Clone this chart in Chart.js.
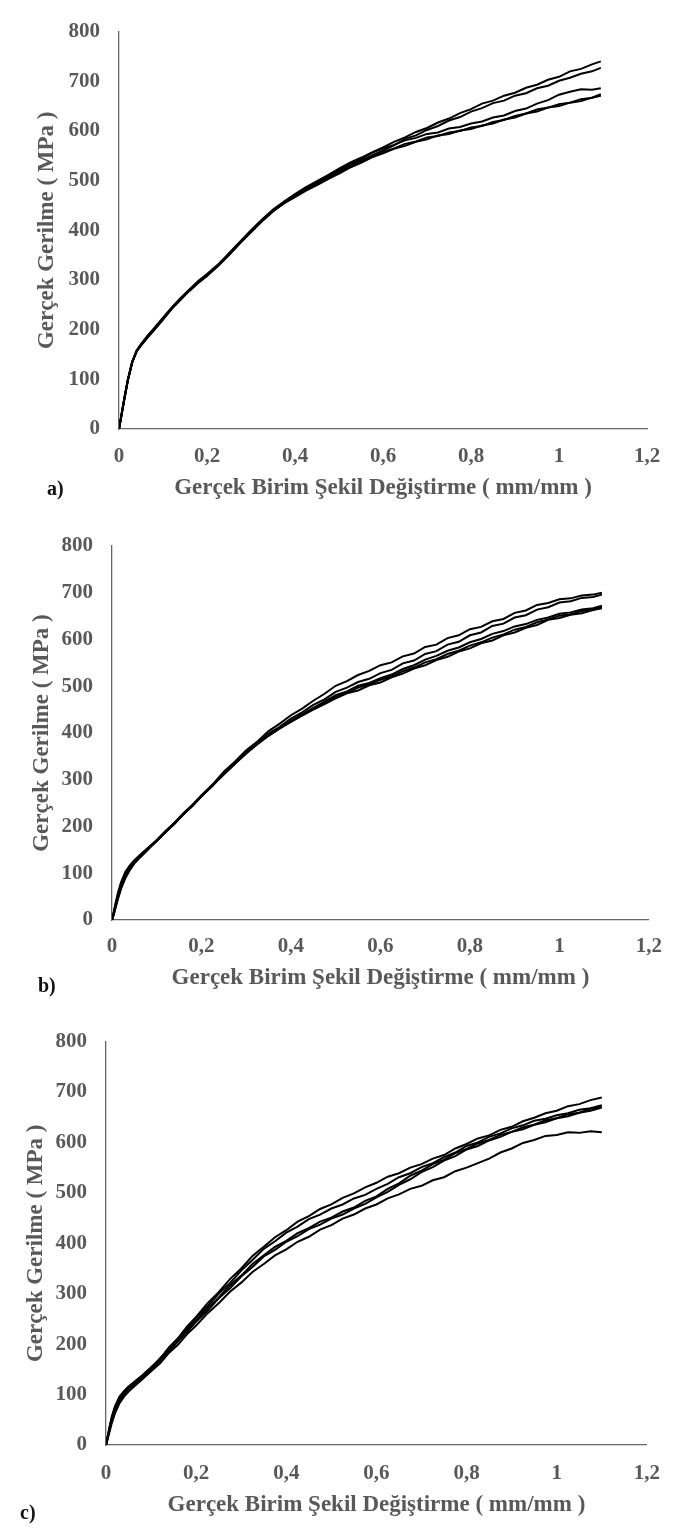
<!DOCTYPE html>
<html>
<head>
<meta charset="utf-8">
<script src="https://cdn.jsdelivr.net/npm/chart.js@4.4.1/dist/chart.umd.min.js"></script>
<style>
  html, body { margin: 0; padding: 0; background: #fff; }
  body { width: 676px; height: 1528px; position: relative; overflow: hidden; }
  .panel { position: absolute; left: 0; width: 676px; }
  .tag { position: absolute; font: bold 20px/24px "Liberation Serif", "Times New Roman", serif; color: #111; }
</style>
</head>
<body>
<div class="panel" style="top:0;height:510px"><canvas id="chartA"></canvas></div>
<div class="panel" style="top:510px;height:500px"><canvas id="chartB"></canvas></div>
<div class="panel" style="top:1010px;height:518px"><canvas id="chartC"></canvas></div>
<div class="tag" style="left:47px;top:476px">a)</div>
<div class="tag" style="left:38px;top:973px">b)</div>
<div class="tag" style="left:20px;top:1500px">c)</div>

<script>
// True strain (mm/mm) sampling points
const strainA = [0,0.004,0.008,0.013,0.02,0.03,0.04,0.05,0.065,0.08,0.1,0.12,0.14,0.16,0.18,0.2,0.225,0.25,0.275,0.3,0.325,0.35,0.375,0.4,0.425,0.45,0.475,0.5,0.525,0.55,0.575,0.6,0.625,0.65,0.675,0.7,0.725,0.75,0.775,0.8,0.825,0.85,0.875,0.9,0.925,0.95,0.975,1.0,1.025,1.05,1.075,1.095];
const strainB = [0,0.004,0.008,0.013,0.02,0.03,0.04,0.05,0.065,0.08,0.1,0.12,0.14,0.16,0.18,0.2,0.225,0.25,0.275,0.3,0.325,0.35,0.375,0.4,0.425,0.45,0.475,0.5,0.525,0.55,0.575,0.6,0.625,0.65,0.675,0.7,0.725,0.75,0.775,0.8,0.825,0.85,0.875,0.9,0.925,0.95,0.975,1.0,1.025,1.05,1.075,1.095];
const strainC = [0,0.004,0.008,0.013,0.02,0.03,0.04,0.05,0.065,0.08,0.1,0.12,0.14,0.16,0.18,0.2,0.225,0.25,0.275,0.3,0.325,0.35,0.375,0.4,0.425,0.45,0.475,0.5,0.525,0.55,0.575,0.6,0.625,0.65,0.675,0.7,0.725,0.75,0.775,0.8,0.825,0.85,0.875,0.9,0.925,0.95,0.975,1.0,1.025,1.05,1.075,1.1];

// True stress (MPa), panel a
const stressA1 = [0,21,41,66,99,136,158,171,188,203,224,245,264,281,298,312,331,354,377,400,422,442,458,473,487,499,511,524,536,546,557,567,578,587,598,606,617,625,636,644,655,661,671,677,687,693,703,709,720,725,734,740];
const stressA2 = [0,20,40,64,97,134,156,169,186,201,221,243,261,279,295,309,329,351,375,397,419,439,455,469,483,494,507,518,530,540,551,561,571,584,591,602,610,621,628,639,646,656,661,671,676,686,691,701,707,715,720,727];
const stressA3 = [0,20,39,65,98,135,157,170,187,202,222,244,262,280,296,310,330,352,376,398,420,440,456,470,484,496,510,521,534,544,556,565,572,581,586,594,597,605,608,615,619,627,631,640,645,655,662,673,679,684,683,686];
const stressA4 = [0,19,40,65,97,134,157,169,185,200,221,243,261,279,295,309,329,351,375,397,419,439,455,469,481,494,504,517,527,540,548,558,565,574,579,587,590,597,600,607,610,618,622,630,635,643,647,654,657,664,667,674];
const stressA5 = [0,20,41,66,98,135,156,168,184,199,220,242,260,278,294,308,328,350,374,396,418,438,454,467,480,491,503,514,526,536,547,555,564,570,578,583,591,594,601,604,611,615,623,627,635,639,647,650,657,660,667,671];

// True stress (MPa), panel b
const stressB1 = [0,18,36,57,80,103,117,128,141,154,171,191,208,229,246,267,290,317,339,363,382,404,420,438,452,469,484,501,511,524,533,545,551,564,570,584,589,603,609,622,627,639,644,657,662,674,678,686,688,694,696,700];
const stressB2 = [0,16,33,53,76,99,114,126,140,153,169,188,206,227,244,265,287,314,335,360,378,399,413,431,444,460,472,488,497,509,516,528,535,549,555,569,575,589,595,609,615,629,634,647,652,664,669,679,682,689,691,696];
const stressB3 = [0,15,31,51,74,97,112,124,138,152,170,189,208,227,246,265,289,312,335,357,377,395,411,426,440,454,467,481,489,501,507,517,525,537,545,557,565,576,583,594,601,612,618,628,633,642,647,655,658,664,667,672];
const stressB4 = [0,13,28,47,70,93,109,122,137,151,169,188,207,226,245,264,288,311,334,356,376,394,410,425,439,452,465,477,486,497,504,514,521,532,540,551,558,569,576,587,594,604,611,621,627,637,643,651,654,661,664,669];
const stressB5 = [0,12,26,44,66,90,107,121,136,150,170,189,208,227,246,265,289,312,335,357,377,395,410,424,437,450,462,474,485,491,502,508,519,527,538,545,556,563,574,581,592,598,609,615,625,631,642,646,653,656,663,667];

// True stress (MPa), panel c
const stressC1 = [0,19,37,57,77,96,107,116,127,138,154,171,194,212,235,254,281,303,329,350,375,393,412,426,443,454,468,477,490,499,511,520,532,539,550,557,568,575,588,597,608,614,625,631,642,649,658,663,672,676,684,689];
const stressC2 = [0,18,35,54,74,94,106,115,126,137,151,172,190,212,230,252,275,300,321,346,367,389,404,421,433,448,457,469,477,489,496,508,518,531,539,551,559,571,580,593,600,611,618,628,634,643,647,654,658,665,668,674];
const stressC3 = [0,16,32,51,71,91,103,112,123,134,150,167,189,206,228,246,271,292,317,336,359,376,393,405,420,430,443,451,463,471,484,493,508,519,534,544,557,566,579,587,598,605,615,621,630,635,644,648,656,659,667,671];
const stressC4 = [0,15,30,48,68,88,101,111,122,133,147,168,185,206,224,245,266,291,311,334,353,374,387,403,414,428,437,449,457,469,478,491,502,516,527,541,551,564,573,586,593,604,611,621,626,635,640,648,652,659,663,669];
const stressC5 = [0,13,27,44,63,83,96,106,118,130,146,162,183,199,220,237,261,281,304,322,343,359,376,388,403,413,427,436,449,457,469,477,489,497,508,514,525,531,543,550,559,568,580,588,599,605,613,615,620,619,622,620];

// Axis tick labels (decimal comma)
const xTickLabels = ['0', '0,2', '0,4', '0,6', '0,8', '1', '1,2'];
const yTickLabels = ['0', '100', '200', '300', '400', '500', '600', '700', '800'];

const xTitle = 'Gerçek Birim Şekil Değiştirme ( mm/mm )';
const yTitle = 'Gerçek Gerilme ( MPa )';

const labelGray = '#595959';
const axisGray = '#666666';
const fontFamily = '"Liberation Serif", "Times New Roman", serif';

function curve(strain, stress) {
  return {
    data: strain.map((x, i) => ({ x: x, y: stress[i] })),
    showLine: true,
    borderColor: '#000',
    borderWidth: 2,
    pointRadius: 0,
    tension: 0,
    fill: false
  };
}

function drawPanel(id, strain, series, g) {
  new Chart(document.getElementById(id), {
    type: 'scatter',
    data: { datasets: series.map(s => curve(strain, s)) },
    options: {
      responsive: true,
      maintainAspectRatio: false,
      animation: false,
      events: [],
      layout: { padding: { top: g.top, right: g.right, left: 0, bottom: 0 } },
      plugins: { legend: { display: false }, tooltip: { enabled: false } },
      scales: {
        x: {
          type: 'linear', min: 0, max: 1.2,
          grid: { display: false, drawTicks: false },
          border: { display: true, color: axisGray, width: 1.3 },
          ticks: {
            stepSize: 0.2, padding: g.xTickPad, color: labelGray, maxRotation: 0,
            font: { family: fontFamily, size: 21, weight: 'bold' },
            callback: (v, i) => xTickLabels[i]
          },
          title: {
            display: true, text: xTitle, color: labelGray,
            font: { family: fontFamily, size: 23, weight: 'bold' },
            padding: { top: 0, bottom: g.xTitlePad }
          },
          afterFit: s => { s.height = g.xHeight; }
        },
        y: {
          type: 'linear', min: 0, max: 800,
          grid: { display: false, drawTicks: false },
          border: { display: true, color: axisGray, width: 1.3 },
          ticks: {
            stepSize: 100, padding: 19, color: labelGray,
            font: { family: fontFamily, size: 21, weight: 'bold' },
            callback: (v, i) => yTickLabels[i]
          },
          title: {
            display: true, text: yTitle, color: labelGray,
            font: { family: fontFamily, size: 23, weight: 'bold' },
            padding: { top: g.yTitlePad, bottom: 0 }
          },
          afterFit: s => { s.width = g.yWidth; }
        }
      }
    }
  });
}

drawPanel('chartA', strainA, [stressA1, stressA2, stressA3, stressA4, stressA5],
  { top: 14, right: 29, yWidth: 119, xHeight: 81, xTickPad: 15, xTitlePad: 8, yTitlePad: 33 });
drawPanel('chartB', strainB, [stressB1, stressB2, stressB3, stressB4, stressB5],
  { top: 36, right: 21, yWidth: 112, xHeight: 90, xTickPad: 14, xTitlePad: 18, yTitlePad: 28 });
drawPanel('chartC', strainC, [stressC1, stressC2, stressC3, stressC4, stressC5],
  { top: 25, right: 18, yWidth: 106, xHeight: 83, xTickPad: 16, xTitlePad: 9, yTitlePad: 22 });
</script>
</body>
</html>
